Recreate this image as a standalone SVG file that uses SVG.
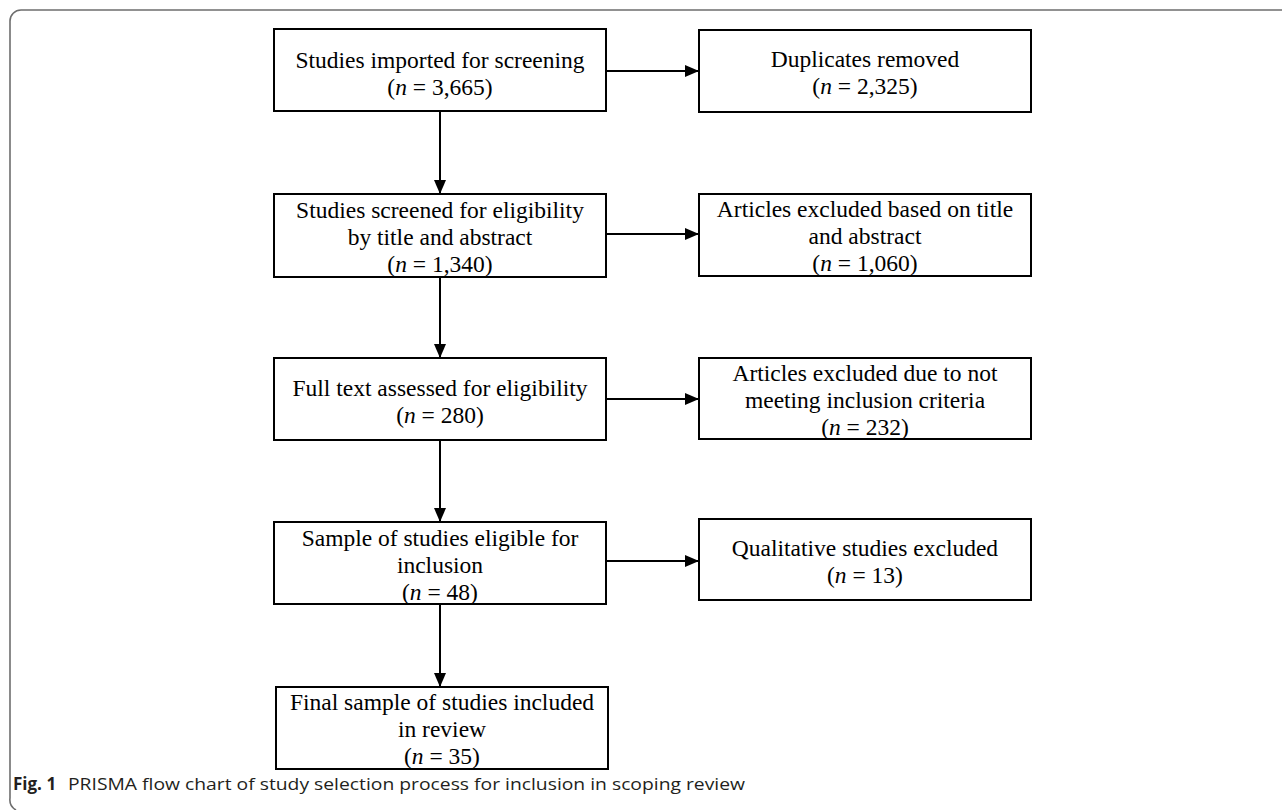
<svg xmlns="http://www.w3.org/2000/svg" width="1282" height="810" viewBox="0 0 1282 810">
<style>
.box{fill:#fff;stroke:#000;stroke-width:2}
.t{font-family:"Liberation Serif","Times New Roman",serif;font-size:23.5px;fill:#000;text-anchor:middle}
.i{font-style:italic}
.c{stroke:#000;stroke-width:2;fill:none}
.cap{font-family:"Open Sans","Liberation Sans",sans-serif;font-size:17px;fill:#231f20}
</style>
<defs>
<marker id="ah" markerUnits="userSpaceOnUse" markerWidth="14" markerHeight="12" refX="14" refY="6" orient="auto">
<path d="M0,0 L14,6 L0,12 Z" fill="#000"/>
</marker>
</defs>
<rect x="0" y="0" width="1282" height="810" fill="#fff"/>
<path d="M1282,10 H21 A11,11 0 0 0 10,21 V798 A12,12 0 0 0 16,810" fill="none" stroke="#6e6e6e" stroke-width="1.6"/>

<g id="connectors">
<line class="c" x1="606" y1="71" x2="699" y2="71" marker-end="url(#ah)"/>
<line class="c" x1="606" y1="234" x2="699" y2="234" marker-end="url(#ah)"/>
<line class="c" x1="606" y1="399" x2="699" y2="399" marker-end="url(#ah)"/>
<line class="c" x1="606" y1="561" x2="699" y2="561" marker-end="url(#ah)"/>
<line class="c" x1="440" y1="111" x2="440" y2="194" marker-end="url(#ah)"/>
<line class="c" x1="440" y1="277" x2="440" y2="358" marker-end="url(#ah)"/>
<line class="c" x1="440" y1="440" x2="440" y2="522" marker-end="url(#ah)"/>
<line class="c" x1="440" y1="605" x2="440" y2="687" marker-end="url(#ah)"/>
</g>

<g id="imported">
<rect class="box" x="274" y="29" width="332" height="82"/>
<text class="t" x="440" y="68">Studies imported for screening</text>
<text class="t" x="440" y="95">(<tspan class="i">n</tspan> = 3,665)</text>
</g>
<g id="duplicates">
<rect class="box" x="699" y="30" width="332" height="82"/>
<text class="t" x="865" y="67">Duplicates removed</text>
<text class="t" x="865" y="94">(<tspan class="i">n</tspan> = 2,325)</text>
</g>
<g id="screened">
<rect class="box" x="274" y="194" width="332" height="83"/>
<text class="t" x="440" y="218">Studies screened for eligibility</text>
<text class="t" x="440" y="245">by title and abstract</text>
<text class="t" x="440" y="272">(<tspan class="i">n</tspan> = 1,340)</text>
</g>
<g id="excluded-title">
<rect class="box" x="699" y="194" width="332" height="82"/>
<text class="t" x="865" y="217">Articles excluded based on title</text>
<text class="t" x="865" y="244">and abstract</text>
<text class="t" x="865" y="271">(<tspan class="i">n</tspan> = 1,060)</text>
</g>
<g id="fulltext">
<rect class="box" x="274" y="358" width="332" height="82"/>
<text class="t" x="440" y="396">Full text assessed for eligibility</text>
<text class="t" x="440" y="423">(<tspan class="i">n</tspan> = 280)</text>
</g>
<g id="excluded-criteria">
<rect class="box" x="699" y="358" width="332" height="81"/>
<text class="t" x="865" y="381">Articles excluded due to not</text>
<text class="t" x="865" y="408">meeting inclusion criteria</text>
<text class="t" x="865" y="435">(<tspan class="i">n</tspan> = 232)</text>
</g>
<g id="eligible">
<rect class="box" x="274" y="522" width="332" height="82"/>
<text class="t" x="440" y="546">Sample of studies eligible for</text>
<text class="t" x="440" y="573">inclusion</text>
<text class="t" x="440" y="600">(<tspan class="i">n</tspan> = 48)</text>
</g>
<g id="qualitative">
<rect class="box" x="699" y="519" width="332" height="81"/>
<text class="t" x="865" y="556">Qualitative studies excluded</text>
<text class="t" x="865" y="583">(<tspan class="i">n</tspan> = 13)</text>
</g>
<g id="final">
<rect class="box" x="276" y="687" width="332" height="82"/>
<text class="t" x="442" y="710">Final sample of studies included</text>
<text class="t" x="442" y="737">in review</text>
<text class="t" x="442" y="764">(<tspan class="i">n</tspan> = 35)</text>
</g>

<text class="cap" x="13" y="790"><tspan font-weight="bold">Fig. 1</tspan><tspan x="68" textLength="677" lengthAdjust="spacingAndGlyphs">PRISMA flow chart of study selection process for inclusion in scoping review</tspan></text>
</svg>
